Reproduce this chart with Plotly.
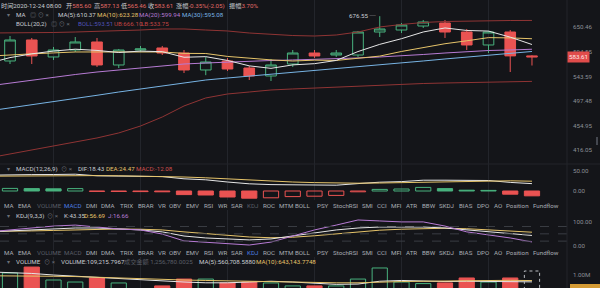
import numpy as np
import plotly.graph_objects as go

W, H = 600, 288
BG = "#141519"
GRID = "#23252b"
TXT = "#c9ccd2"
DIM = "#595d66"
RED = "#ea5352"
GREEN = "#48b27e"
YEL = "#e6c46a"
PUR = "#b77bd4"
LBL = "#78b4e4"
BRED = "#8f3434"
BLUE = "#4c7de0"
FONT = "Roboto, 'Noto Sans CJK SC', sans-serif"
FS = 6.2

# ---------------- data (index -1 is the off-screen candle at the left edge) ----------------
idx = list(range(-1, 25))
open_ = [545.0, 574.9, 620.5, 583.3, 598.3, 616.0, 566.6, 598.3, 602.7, 591.8, 556.4, 574.9, 560.4,
         544.4, 568.6, 591.8, 587.5, 587.5, 638.7, 643.4, 652.8, 660.0, 638.7, 609.3, 638.7, 585.60]
close = [575.0, 620.5, 585.4, 598.3, 616.0, 566.6, 598.3, 600.5, 591.8, 556.4, 572.8, 558.4, 544.4,
         566.6, 591.8, 585.4, 591.8, 638.7, 645.8, 655.2, 662.4, 638.7, 609.3, 638.7, 585.6, 583.61]
high = [582.0, 629.5, 625.0, 604.9, 627.2, 625.0, 600.5, 607.1, 607.1, 598.3, 583.3, 581.2, 564.5,
        579.1, 598.3, 598.3, 598.3, 641.1, 676.55, 660.0, 667.2, 667.2, 645.8, 641.1, 643.4, 587.13]
low = [530.05, 568.6, 568.6, 577.0, 594.0, 562.5, 560.4, 594.0, 587.5, 550.3, 546.0, 554.4, 536.5,
       534.5, 562.5, 581.2, 583.3, 583.3, 627.2, 636.4, 648.1, 625.0, 598.3, 591.8, 552.3, 565.46]

ma5 = [570, 582, 590, 596, 600, 597.4, 592.9, 595.9, 594.6, 582.7, 584.0, 576.0, 564.8, 559.7, 566.8,
       569.3, 576.0, 594.9, 610.7, 623.4, 638.8, 648.2, 642.3, 640.9, 626.9, 610.37]
ma10 = [585, 588, 590, 592, 594, 594, 594, 595, 594, 591, 590.7, 584.5, 580.4, 577.2, 574.8, 576.6,
        576.0, 579.8, 585.2, 595.1, 604.1, 612.1, 618.6, 625.8, 625.2, 623.28]
ma20 = [524.9, 530.7, 536.5, 542.4, 547.3, 552.3, 556.4, 560.4, 564.5, 568.6, 570.7, 572.8, 574.9,
        575.9, 577.0, 578.0, 579.1, 581.2, 583.3, 585.4, 588.6, 591.8, 595.0, 597.2, 598.3, 599.94]
ma30 = [479.3, 484.6, 490.3, 496.0, 501.6, 507.5, 513.6, 519.3, 524.9, 531.7, 536.5, 540.4, 544.0,
        547.7, 551.5, 555.4, 559.2, 563.1, 567.0, 570.9, 574.9, 579.1, 582.9, 586.9, 591.0, 595.08]
boll_up = [636.4, 636.4, 636.4, 637.6, 638.7, 639.9, 641.1, 643.4, 645.8, 645.8, 643.4, 641.1, 636.4,
           632.9, 630.6, 629.5, 631.8, 638.7, 650.5, 656.4, 661.2, 663.6, 664.8, 666.0, 666.0, 666.1]
boll_lo = [404.1, 410.0, 416.2, 422.1, 428.3, 434.6, 442.6, 453.9, 469.0, 488.2, 502.6, 509.9, 513.6,
           517.4, 519.3, 521.2, 523.0, 524.9, 526.9, 528.8, 529.7, 530.7, 531.6, 532.6, 533.6, 533.8]

dif = [39.5, 40.75, 41, 41.25, 42, 38, 37.4, 36.75, 36, 30.5, 28, 22.5, 18, 16, 15.5, 14.5, 14.5,
       18.5, 22, 23.5, 27, 27, 26, 26.25, 21.5, 18.43]
dea = [37, 37.5, 38, 38.5, 39, 38.5, 38, 37.5, 37, 35, 33, 30, 27, 24.5, 22.5, 21, 20, 19.5, 20, 21,
       22.5, 24, 25, 25.5, 25.5, 24.47]
macd = [5, 6.5, 6, 5.5, 6, -1, -1.2, -1.5, -2, -9, -10, -15, -18, -17, -14, -13, -11, -2, 4, 5, 9, 6,
        2, 1.5, -8, -12.08]

k_line = [58, 62, 66, 70, 74, 74, 70, 66, 58, 41, 33, 29, 25, 29, 41, 53, 66, 74, 78, 78, 78, 74, 66,
          58, 49, 43.35]
d_line = [60, 60, 62, 64, 67, 69, 70, 69, 66, 58, 50, 43, 37, 34, 36, 42, 50, 58, 65, 69, 72, 73, 71,
          66, 61, 56.69]
j_line = [58, 66, 74, 82, 86, 78, 70, 66, 49, 21, 16, 12, 4, 16, 41, 66, 86, 107, 103, 99, 99, 82, 58,
          45, 33, 16.66]

volume = [900000, 1130000, 1510000, 680000, 550000, 810000, 490000, 100000, 300000, 740000, 740000,
          490000, 550000, 490000, 300000, 300000, 300000, 740000, 1450000, 550000, 450000, 490000,
          810000, 550000, 810000, 1256780]
vol_ma5 = [1200000, 1150000, 1100000, 1000000, 920000, 850000, 800000, 720000, 620000, 550000, 500000,
           500000, 550000, 600000, 550000, 470000, 400000, 420000, 600000, 650000, 600000, 580000,
           600000, 580000, 600000, 560708]
vol_ma10 = [950000, 950000, 950000, 920000, 900000, 850000, 800000, 750000, 700000, 680000, 650000,
            620000, 600000, 580000, 560000, 530000, 500000, 500000, 550000, 580000, 600000, 620000,
            640000, 650000, 660000, 643143]

price_ticks = [416.05, 454.95, 497.48, 543.59, 594.55, 650.46]
last_price = 583.61
tabs = ["MA", "EMA", "VOLUME", "MACD", "DMI", "DMA", "TRIX", "BRAR", "VR", "OBV", "EMV", "RSI", "WR",
        "SAR", "KDJ", "ROC", "MTM", "BOLL", "PSY", "StochRSI", "SMI", "CCI", "MFI", "ATR", "BBW",
        "SKDJ", "BIAS", "DPO", "AO", "Position", "Fundflow"]
tab_x = [3, 17, 36, 63, 85, 100, 119, 137, 157, 168, 185, 203, 217, 230, 246, 262, 278, 294, 316, 332,
         361, 376, 390, 405, 421, 438, 458, 476, 493, 505, 532]

# ---------------- figure ----------------
fig = go.Figure()


def pdom(top, bottom):
    return [1 - bottom / H, 1 - top / H]


XR = [-0.46, 25.61]
XD = [0, 567 / W]

fig.add_trace(go.Candlestick(
    x=idx, open=open_, high=high, low=low, close=close, whiskerwidth=0,
    increasing=dict(line=dict(color=GREEN, width=1), fillcolor="rgba(0,0,0,0)"),
    decreasing=dict(line=dict(color=RED, width=1), fillcolor=RED),
    xaxis="x", yaxis="y", hoverinfo="skip"))

for arr, col in [(boll_up, BRED), (boll_lo, BRED), (ma30, LBL), (ma20, PUR), (ma10, YEL), (ma5, "#e6e6e6")]:
    fig.add_trace(go.Scatter(x=idx, y=arr, mode="lines", line=dict(color=col, width=1),
                             xaxis="x", yaxis="y", hoverinfo="skip"))

# MACD histogram: filled when value falls, hollow when it rises
prev = [macd[0]] + macd[:-1]
mc = [GREEN if v >= 0 else RED for v in macd]
mf = [c if v < p else "rgba(0,0,0,0)" for v, p, c in zip(macd, prev, mc)]
fig.add_trace(go.Bar(x=idx, y=macd, width=0.7, marker=dict(color=mf, line=dict(color=mc, width=1)),
                     xaxis="x2", yaxis="y2", hoverinfo="skip"))
fig.add_trace(go.Scatter(x=idx, y=dif, mode="lines", line=dict(color="#e6e6e6", width=1),
                         xaxis="x2", yaxis="y2", hoverinfo="skip"))
fig.add_trace(go.Scatter(x=idx, y=dea, mode="lines", line=dict(color=YEL, width=1),
                         xaxis="x2", yaxis="y2", hoverinfo="skip"))

# KDJ
for arr, col in [(d_line, YEL), (k_line, "#e6e6e6"), (j_line, PUR)]:
    fig.add_trace(go.Scatter(x=idx, y=arr, mode="lines", line=dict(color=col, width=1),
                             xaxis="x3", yaxis="y3", hoverinfo="skip"))

# Volume
up = [c >= o for o, c in zip(open_, close)]
vc = [GREEN if u else RED for u in up]
vf = ["rgba(0,0,0,0)" if u else RED for u in up]
fig.add_trace(go.Bar(x=idx[:-1], y=volume[:-1], width=0.7,
                     marker=dict(color=vf[:-1], line=dict(color=vc[:-1], width=1)),
                     xaxis="x4", yaxis="y4", hoverinfo="skip"))
fig.add_shape(type="rect", x0=idx[-1] - 0.35, x1=idx[-1] + 0.35, y0=0, y1=volume[-1], xref="x4", yref="y4",
              line=dict(color="#b9bcc2", width=1, dash="dot"), fillcolor="rgba(0,0,0,0)")
fig.add_trace(go.Scatter(x=idx, y=vol_ma5, mode="lines", line=dict(color="#e6e6e6", width=1),
                         xaxis="x4", yaxis="y4", hoverinfo="skip"))
fig.add_trace(go.Scatter(x=idx, y=vol_ma10, mode="lines", line=dict(color=YEL, width=1),
                         xaxis="x4", yaxis="y4", hoverinfo="skip"))

vgrid = [2, 6, 10, 14, 18, 22]
xcommon = dict(domain=XD, range=XR, showticklabels=False, showgrid=True, gridcolor=GRID, gridwidth=1,
               tickmode="array", tickvals=vgrid, zeroline=False, showline=False, ticks="")
yfont = dict(size=FS, color="#8b8f97", family=FONT)
ycommon = dict(side="right", showgrid=False, zeroline=False, showline=False, tickfont=yfont, ticks="",
               tickmode="array", ticklabelstandoff=5)

lo_main = np.log10(396.8)
hi_main = np.log10(717.5)
fig.update_layout(
    width=W, height=H, margin=dict(l=0, r=0, t=0, b=0), paper_bgcolor=BG, plot_bgcolor=BG,
    showlegend=False, bargap=0.3, font=dict(family=FONT, size=FS, color=TXT),
    xaxis=dict(**xcommon, anchor="y", rangeslider=dict(visible=False)),
    xaxis2=dict(**xcommon, anchor="y2", matches="x"),
    xaxis3=dict(**xcommon, anchor="y3", matches="x"),
    xaxis4=dict(**xcommon, anchor="y4", matches="x"),
    yaxis=dict(**ycommon, domain=pdom(0, 163), type="log", range=[lo_main, hi_main],
               tickvals=price_ticks, ticktext=[f"{v:.2f}" for v in price_ticks], anchor="x"),
    yaxis2=dict(**ycommon, domain=pdom(163, 200), range=[-22.5, 70], tickvals=[0, 50],
                ticktext=["0.00", "50.00"], anchor="x2"),
    yaxis3=dict(**ycommon, domain=pdom(210, 250), range=[-16.5, 148], tickvals=[0, 100],
                ticktext=["0.00", "100.00"], anchor="x3"),
    yaxis4=dict(**ycommon, domain=pdom(257, 288), range=[167000, 2154000], tickvals=[1000000],
                ticktext=["1.00M"], anchor="x4"),
)

# KDJ dashed guide lines
for lv in [20, 50, 80]:
    fig.add_shape(type="line", x0=0, x1=1, xref="x3 domain", y0=lv, y1=lv, yref="y3",
                  line=dict(color="#3a3d44", width=1, dash="dash"))

# separators
fig.add_shape(type="line", x0=0, x1=1, xref="paper", y0=1 - 164 / H, y1=1 - 164 / H, yref="paper",
              line=dict(color=GRID, width=1))
fig.add_shape(type="line", x0=567 / W, x1=567 / W, xref="paper", y0=0, y1=1, yref="paper",
              line=dict(color=GRID, width=1))

# current price
fig.add_shape(type="line", x0=23.6, x1=XR[1], xref="x", y0=np.log10(last_price), y1=np.log10(last_price),
              yref="y", line=dict(color=RED, width=1, dash="dot"))
fig.add_annotation(x=567 / W, xref="paper", y=np.log10(last_price), yref="y", text=f"{last_price:.2f}",
                   showarrow=False, xanchor="left", yanchor="middle", bgcolor="#e04c4b", borderpad=1,
                   font=dict(color="#ffe8e8", size=FS, family=FONT))
fig.add_shape(type="rect", x0=596 / W, x1=598 / W, xref="paper", y0=1 - 145 / H, y1=1 - 137 / H,
              yref="paper", fillcolor="#44474f", line=dict(width=0))
fig.add_shape(type="rect", x0=570 / W, x1=1, xref="paper", y0=0, y1=1 - 284 / H, yref="paper",
              fillcolor="#d49a34", line=dict(width=0))

# high / low markers
hi_i = int(np.argmax(high))
lo_i = int(np.argmin(low))
fig.add_annotation(x=idx[hi_i], y=np.log10(high[hi_i]), xref="x", yref="y", text=f"{high[hi_i]:.2f} ─",
                   showarrow=False, xanchor="right", yanchor="middle", xshift=-1,
                   font=dict(color=TXT, size=FS, family=FONT))
fig.add_annotation(x=idx[lo_i], y=np.log10(low[lo_i]), xref="x", yref="y", text=f"─ {low[lo_i]:.2f}",
                   showarrow=False, xanchor="left", yanchor="middle", xshift=1,
                   font=dict(color=TXT, size=FS, family=FONT))


def ann(px, py, text, color=TXT, size=FS):
    fig.add_annotation(x=px / W, y=1 - py / H, xref="paper", yref="paper", text=text, showarrow=False,
                       xanchor="left", yanchor="middle", borderpad=0,
                       font=dict(color=color, size=size, family=FONT))


ICON = "#6b6f77"
VAL = "#e06a66"
# header line 1
ann(0, 6, "时间2020-12-24 08:00")
ann(65, 6, f"开<span style='color:{VAL}'>585.60</span>")
ann(93, 6, f"高<span style='color:{VAL}'>587.13</span>")
ann(120, 6, f"低<span style='color:{VAL}'>565.46</span>")
ann(147, 6, f"收<span style='color:{VAL}'>583.61</span>")
ann(175, 6, f"涨幅<span style='color:{VAL}'>-0.35%(-2.05)</span>")
ann(228, 6, f"振幅<span style='color:{VAL}'>3.70%</span>")
# header line 2
ann(6, 15, "▾", ICON)
ann(15, 15, "MA")
ann(29, 15, "◎ ⊙ ×", ICON)
ann(57, 15, "MA(5):610.37")
ann(96, 15, "MA(10):623.28", YEL)
ann(138, 15, "MA(20):599.94", PUR)
ann(181, 15, "MA(30):595.08", LBL)
# header line 3
ann(15, 24, "BOLL(20,2)")
ann(50, 24, "◎ ⊙ ×", ICON)
ann(77, 24, "BOLL:593.51", "#4f52b8")
ann(113, 24, "UB:666.10", "#c04444")
ann(140, 24, "LB:533.75", "#c04444")
# MACD header
ann(6, 169, "▾", ICON)
ann(15, 169, "MACD(12,26,9)")
ann(60, 169, "⊙ ×", ICON)
ann(77, 169, "DIF:18.43")
ann(105, 169, "DEA:24.47", YEL)
ann(135, 169, "MACD:-12.08", "#d0504e")
# KDJ header
ann(6, 215.5, "▾", ICON)
ann(15, 215.5, "KDJ(9,3,3)")
ann(46, 215.5, "⊙ ×", ICON)
ann(63, 215.5, "K:43.35")
ann(83, 215.5, "D:56.69", YEL)
ann(107, 215.5, "J:16.66", PUR)
# VOLUME header
ann(6, 262, "▾", ICON)
ann(15, 262, "VOLUME")
ann(43, 262, "⊙ ×", ICON)
ann(60, 262, "VOLUME:109,215.7967")
ann(123, 262, "成交金额 1,256,780.0025", DIM)
ann(198, 262, "MA(5):560,708.5880")
ann(255, 262, "MA(10):643,143.7748", YEL)

# tab rows
TABC = "#a9adb4"
for row_y, active, dim in [(206, "MACD", ["VOLUME", "KDJ"]), (253, "KDJ", ["VOLUME", "MACD"])]:
    for name, px in zip(tabs, tab_x):
        col = BLUE if name == active else (DIM if name in dim else TABC)
        ann(px, row_y, name, col)

fig.write_html("out.html")
